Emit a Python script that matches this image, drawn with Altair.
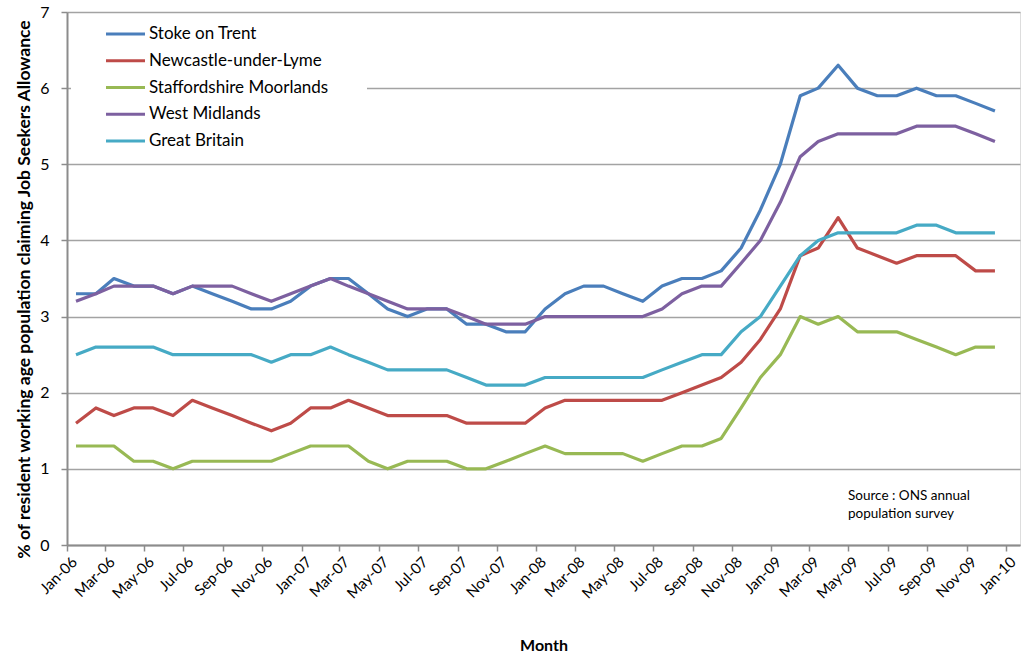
import altair as alt
import pandas as pd

# Monthly claimant rates (%), Jan 2006 - Dec 2009, plotted mid-month
months = [f"{y}-{m:02d}-15" for y in range(2006, 2010) for m in range(1, 13)]

series_names = [
    "Stoke on Trent",
    "Newcastle-under-Lyme",
    "Staffordshire Moorlands",
    "West Midlands",
    "Great Britain",
]
series_colors = ["#4A7EBB", "#BE4B48", "#98B954", "#7D60A0", "#46AAC5"]

stoke_on_trent = [
    3.3, 3.3, 3.5, 3.4, 3.4, 3.3, 3.4, 3.3, 3.2, 3.1, 3.1, 3.2,
    3.4, 3.5, 3.5, 3.3, 3.1, 3.0, 3.1, 3.1, 2.9, 2.9, 2.8, 2.8,
    3.1, 3.3, 3.4, 3.4, 3.3, 3.2, 3.4, 3.5, 3.5, 3.6, 3.9, 4.4,
    5.0, 5.9, 6.0, 6.3, 6.0, 5.9, 5.9, 6.0, 5.9, 5.9, 5.8, 5.7,
]
newcastle_under_lyme = [
    1.6, 1.8, 1.7, 1.8, 1.8, 1.7, 1.9, 1.8, 1.7, 1.6, 1.5, 1.6,
    1.8, 1.8, 1.9, 1.8, 1.7, 1.7, 1.7, 1.7, 1.6, 1.6, 1.6, 1.6,
    1.8, 1.9, 1.9, 1.9, 1.9, 1.9, 1.9, 2.0, 2.1, 2.2, 2.4, 2.7,
    3.1, 3.8, 3.9, 4.3, 3.9, 3.8, 3.7, 3.8, 3.8, 3.8, 3.6, 3.6,
]
staffordshire_moorlands = [
    1.3, 1.3, 1.3, 1.1, 1.1, 1.0, 1.1, 1.1, 1.1, 1.1, 1.1, 1.2,
    1.3, 1.3, 1.3, 1.1, 1.0, 1.1, 1.1, 1.1, 1.0, 1.0, 1.1, 1.2,
    1.3, 1.2, 1.2, 1.2, 1.2, 1.1, 1.2, 1.3, 1.3, 1.4, 1.8, 2.2,
    2.5, 3.0, 2.9, 3.0, 2.8, 2.8, 2.8, 2.7, 2.6, 2.5, 2.6, 2.6,
]
west_midlands = [
    3.2, 3.3, 3.4, 3.4, 3.4, 3.3, 3.4, 3.4, 3.4, 3.3, 3.2, 3.3,
    3.4, 3.5, 3.4, 3.3, 3.2, 3.1, 3.1, 3.1, 3.0, 2.9, 2.9, 2.9,
    3.0, 3.0, 3.0, 3.0, 3.0, 3.0, 3.1, 3.3, 3.4, 3.4, 3.7, 4.0,
    4.5, 5.1, 5.3, 5.4, 5.4, 5.4, 5.4, 5.5, 5.5, 5.5, 5.4, 5.3,
]
great_britain = [
    2.5, 2.6, 2.6, 2.6, 2.6, 2.5, 2.5, 2.5, 2.5, 2.5, 2.4, 2.5,
    2.5, 2.6, 2.5, 2.4, 2.3, 2.3, 2.3, 2.3, 2.2, 2.1, 2.1, 2.1,
    2.2, 2.2, 2.2, 2.2, 2.2, 2.2, 2.3, 2.4, 2.5, 2.5, 2.8, 3.0,
    3.4, 3.8, 4.0, 4.1, 4.1, 4.1, 4.1, 4.2, 4.2, 4.1, 4.1, 4.1,
]

source_note = "Source : ONS annual\npopulation survey"

all_series = [stoke_on_trent, newcastle_under_lyme, staffordshire_moorlands,
              west_midlands, great_britain]
rows = []
for name, values in zip(series_names, all_series):
    for m, v in zip(months, values):
        rows.append({"month": m, "area": name, "rate": v})
df = pd.DataFrame(rows)
legend_df = pd.DataFrame({"area": series_names, "row": list(range(len(series_names)))})
note_df = pd.DataFrame({"note": [source_note]})

FONT = "Lato"
color_scale = alt.Scale(domain=series_names, range=series_colors)

tick_dates = [alt.DateTime(year=y, month=m, date=1, utc=True)
              for y in range(2006, 2010) for m in range(1, 13, 2)]
tick_dates.append(alt.DateTime(year=2010, month=1, date=1, utc=True))

x_enc = alt.X(
    "month:T",
    scale=alt.Scale(
        type="utc",
        domain=[alt.DateTime(year=2006, month=1, date=1, utc=True),
                alt.DateTime(year=2010, month=1, date=23, utc=True)],
    ),
    axis=alt.Axis(
        values=tick_dates, format="%b-%y", labelAngle=315, labelAlign="right",
        labelBaseline="middle", labelFontSize=15, labelFont=FONT, labelColor="black",
        labelPadding=8, labelOffset=7, labelOverlap=False, labelBound=False,
        tickSize=6, tickColor="#8c8c8c", tickWidth=1.5,
        domainColor="#8c8c8c", domainWidth=2, grid=False,
        title="Month", titleFont=FONT, titleFontSize=16, titleFontWeight="bold",
        titleColor="black", titleY=100, titleBaseline="middle",
    ),
)
y_enc = alt.Y(
    "rate:Q",
    scale=alt.Scale(domain=[0, 7], nice=False),
    axis=alt.Axis(
        values=list(range(8)), labelFontSize=16, labelFont=FONT, labelColor="black",
        labelPadding=12, tickSize=6, tickColor="#8c8c8c", tickWidth=1.5,
        domainColor="#8c8c8c", domainWidth=2,
        grid=True, gridColor="#a3a3a3", gridWidth=1.5,
        title="% of resident working age population claiming Job Seekers Allowance",
        titleFont=FONT, titleFontSize=17.5, titleFontWeight="bold", titleColor="black",
        titleX=-43, titleY=277, titleBaseline="middle", titleAngle=270,
    ),
)

lines = alt.Chart(df).mark_line(strokeWidth=3.2, strokeJoin="round").encode(
    x=x_enc,
    y=y_enc,
    color=alt.Color("area:N", scale=color_scale, legend=None),
    order=alt.Order("month:T"),
)

# white panel behind the legend entries
legend_panel = alt.Chart(legend_df).mark_rect(color="white").encode(
    x=alt.value(4), x2=alt.value(300), y=alt.value(4), y2=alt.value(144)
)

# legend rows: one key line and one label per series, stacked top to bottom
legend_y = alt.Y(
    "row:Q",
    scale=alt.Scale(domain=[0, len(series_names) - 1], range=[22, 129], nice=False, zero=False),
    axis=None,
)
legend_keys = alt.Chart(legend_df).mark_rule(strokeWidth=3).encode(
    x=alt.value(39), x2=alt.value(78), y=legend_y,
    color=alt.Color("area:N", scale=color_scale, legend=None),
)
legend_labels = alt.Chart(legend_df).mark_text(
    align="left", baseline="middle", font=FONT, fontSize=17, color="black",
).encode(x=alt.value(82), y=legend_y, text="area:N")

note = alt.Chart(note_df).mark_text(
    align="left", baseline="middle", font=FONT, fontSize=13.5,
    color="black", lineBreak="\n", lineHeight=18,
).encode(x=alt.value(781), y=alt.value(484), text="note:N")

legend_layer = alt.layer(legend_keys, legend_labels)

chart = alt.layer(
    legend_panel, lines, legend_layer, note
).resolve_scale(y="independent").properties(
    width=953, height=533,
    autosize=alt.AutoSizeParams(type="none"),
    padding={"left": 67, "top": 12, "right": 2, "bottom": 112},
).configure_view(stroke=None).configure(background="white")

chart.save("out.html", embed_options={"renderer": "svg", "actions": False})
